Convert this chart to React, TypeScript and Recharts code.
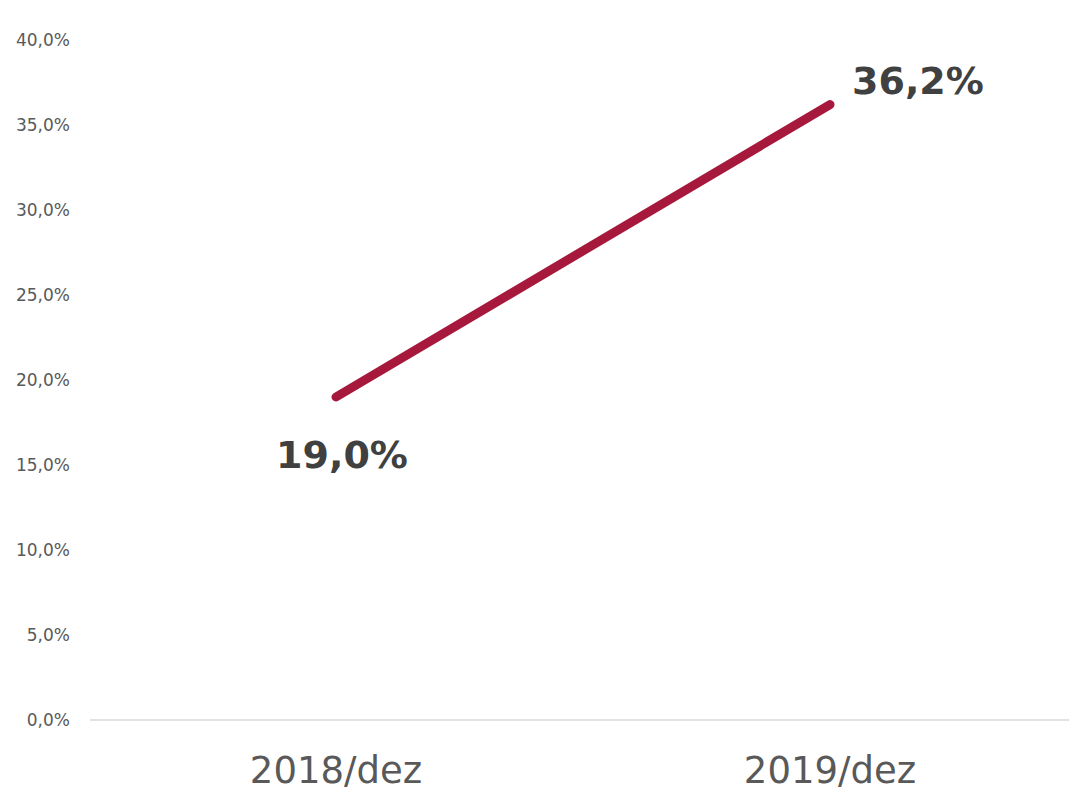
import { LineChart, Line, XAxis, YAxis, LabelList } from 'recharts'

const categories = ['2018/dez', '2019/dez']
const values = [19.0, 36.2]
const yTicks = [0, 5, 10, 15, 20, 25, 30, 35, 40]

const data = categories.map((c, i) => ({ name: c, value: values[i] }))

const fmt = (v: number) => v.toFixed(1).replace('.', ',') + '%'

const FONT = '"DejaVu Sans", sans-serif'

function PointLabel(props: any) {
  const { x, y, value, index } = props
  if (index === 0) {
    return (
      <text x={x + 6} y={y + 71} textAnchor="middle" fill="#404040" fontSize={38} fontWeight="bold" fontFamily={FONT}>
        {fmt(value)}
      </text>
    )
  }
  return (
    <text x={x + 22} y={y - 11} textAnchor="start" fill="#404040" fontSize={38} fontWeight="bold" fontFamily={FONT}>
      {fmt(value)}
    </text>
  )
}

export default function App() {
  return (
    <div style={{ position: 'absolute', left: 0, top: 0, background: '#fff' }}>
      <LineChart width={1069} height={791} data={data} margin={{ top: 40, right: 0, bottom: 0, left: 0 }}>
        <XAxis
          dataKey="name"
          height={71}
          padding={{ left: 246, right: 239 }}
          tickLine={false}
          axisLine={{ stroke: '#d9d9d9', strokeWidth: 1.5 }}
          tickMargin={31}
          tick={{ fill: '#595959', fontSize: 37, fontFamily: FONT }}
        />
        <YAxis
          width={90}
          domain={[0, 40]}
          ticks={yTicks}
          tickFormatter={fmt}
          axisLine={false}
          tickLine={false}
          tickSize={0}
          tickMargin={20}
          tick={{ fill: '#595959', fontSize: 17, fontFamily: FONT }}
        />
        <Line
          type="linear"
          dataKey="value"
          stroke="#A6193C"
          strokeWidth={9}
          strokeLinecap="round"
          dot={false}
          activeDot={false}
          isAnimationActive={false}
        >
          <LabelList dataKey="value" content={PointLabel} />
        </Line>
      </LineChart>
    </div>
  )
}
